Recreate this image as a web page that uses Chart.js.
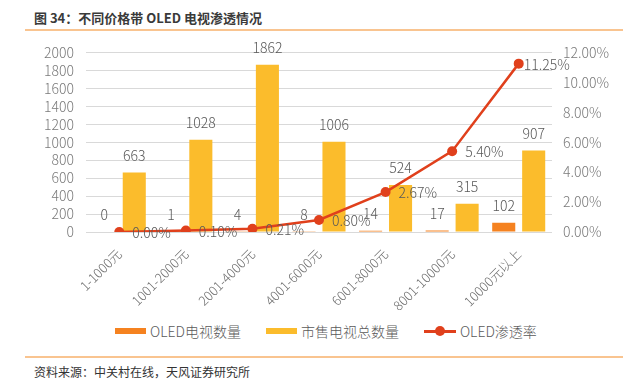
<!DOCTYPE html>
<html lang="zh">
<head>
  <meta charset="UTF-8" />
  <title>不同价格带 OLED 电视渗透情况</title>
  <style>
    body { margin: 0; width: 629px; height: 384px; background: #fff; position: relative; overflow: hidden; font-family: "Noto Sans CJK SC", sans-serif; }
    #title { position: absolute; left: 34px; top: 8px; font-size: 13px; font-weight: bold; color: #3a3a3a; white-space: nowrap; }
    .rule { position: absolute; left: 25px; right: 6px; height: 2px; background: #F9C490; }
    #wrap { position: absolute; left: 0; top: 32px; width: 629px; height: 286px; }
    #legend { position: absolute; left: 115px; top: 321px; height: 20px; display: flex; align-items: center; font-size: 14px; font-weight: 300; color: #595959; white-space: nowrap; }
    #legend .item { display: flex; align-items: center; margin-right: 25px; }
    #legend .box { width: 31px; height: 6px; margin-right: 4px; }
    #legend .line { position: relative; width: 32px; height: 3px; margin-right: 4px; }
    #legend .line::after { content: ''; position: absolute; left: 11px; top: -3.5px; width: 10px; height: 10px; border-radius: 50%; background: inherit; }
    #source { position: absolute; left: 34px; top: 363px; font-size: 12px; color: #333; white-space: nowrap; }
  </style>
  <script src="https://cdn.jsdelivr.net/npm/chart.js"></script>
</head>
<body>
  <div id="title">图 34：不同价格带 OLED 电视渗透情况</div>
  <div class="rule" style="top:29px"></div>
  <div id="wrap"><canvas id="chart"></canvas></div>
  <div id="legend"></div>
  <div class="rule" style="top:356px"></div>
  <div id="source">资料来源：中关村在线，天风证券研究所</div>
  <script>
    // DATA
    const categories = ['1-1000元', '1001-2000元', '2001-4000元', '4001-6000元', '6001-8000元', '8001-10000元', '10000元以上'];
    const oledCount = [0, 1, 4, 8, 14, 17, 102];
    const totalCount = [663, 1028, 1862, 1006, 524, 315, 907];
    const oledRate = [0.00, 0.10, 0.21, 0.80, 2.67, 5.40, 11.25];

    const FONT = '"Noto Sans CJK SC", sans-serif';
    const ORANGE = '#F58220';
    const YELLOW = '#FBBC2C';
    const RED = '#E0401C';

    // value labels on bars and points
    const valueLabels = {
      id: 'valueLabels',
      afterDatasetsDraw(chart) {
        const ctx = chart.ctx;
        ctx.save();
        ctx.font = '300 14px ' + FONT;
        ctx.fillStyle = '#595959';
        ctx.textBaseline = 'middle';
        chart.data.datasets.forEach((ds, i) => {
          const meta = chart.getDatasetMeta(i);
          meta.data.forEach((el, j) => {
            if (ds.type === 'line') {
              ctx.textAlign = 'left';
              const dx = j === ds.data.length - 1 ? 5 : 13;
              ctx.fillText(ds.data[j].toFixed(2) + '%', el.x + dx, el.y + 1);
            } else {
              ctx.textAlign = 'center';
              ctx.fillText(String(ds.data[j]), el.x, el.y - 17);
            }
          });
        });
        ctx.restore();
      }
    };

    const chart = new Chart(document.getElementById('chart'), {
      data: {
        labels: categories,
        datasets: [
          { type: 'line', label: 'OLED渗透率', data: oledRate, yAxisID: 'y1', order: 0,
            borderColor: RED, backgroundColor: RED, borderWidth: 2.5, pointRadius: 5,
            pointBackgroundColor: RED, pointBorderWidth: 0, tension: 0 },
          { type: 'bar', label: 'OLED电视数量', data: oledCount, yAxisID: 'y', order: 1,
            backgroundColor: ORANGE, categoryPercentage: 0.9, barPercentage: 0.77 },
          { type: 'bar', label: '市售电视总数量', data: totalCount, yAxisID: 'y', order: 1,
            backgroundColor: YELLOW, categoryPercentage: 0.9, barPercentage: 0.77 }
        ]
      },
      options: {
        responsive: true,
        maintainAspectRatio: false,
        animation: false,
        layout: { padding: { top: 11, left: 24, right: 0, bottom: 0 } },
        plugins: {
          tooltip: { enabled: false },
          legend: { display: false }
        },
        scales: {
          x: {
            grid: { display: false },
            border: { display: false },
            ticks: { color: '#6b6b6b', font: { family: FONT, size: 13, weight: 300 }, minRotation: 45, maxRotation: 45, padding: 6, autoSkip: false },
            afterFit: s => { s.height = 86; }
          },
          y: {
            position: 'left',
            min: 0, max: 2000,
            border: { display: false },
            grid: { color: '#D9D9D9', lineWidth: 1, drawTicks: false },
            ticks: { stepSize: 200, autoSkip: false, color: '#7a7a7a', font: { family: FONT, size: 14, weight: 300 }, padding: 12,
              callback: v => String(v) },
            afterFit: s => { s.width = 62; }
          },
          y1: {
            position: 'right',
            min: 0, max: 12,
            border: { display: false },
            grid: { display: false, drawTicks: false },
            ticks: { stepSize: 2, autoSkip: false, color: '#7a7a7a', font: { family: FONT, size: 14, weight: 300 }, padding: 11,
              callback: v => v.toFixed(2) + '%' },
            afterFit: s => { s.width = 77; }
          }
        }
      },
      plugins: [valueLabels]
    });

    // HTML legend, order as in the source chart
    const legendItems = [
      { ds: 1, kind: 'box' },
      { ds: 2, kind: 'box' },
      { ds: 0, kind: 'line' }
    ];
    const legendEl = document.getElementById('legend');
    legendItems.forEach(it => {
      const ds = chart.data.datasets[it.ds];
      const item = document.createElement('div');
      item.className = 'item';
      const mark = document.createElement('span');
      mark.className = it.kind;
      mark.style.background = it.kind === 'line' ? ds.borderColor : ds.backgroundColor;
      const label = document.createElement('span');
      label.textContent = ds.label;
      item.appendChild(mark);
      item.appendChild(label);
      legendEl.appendChild(item);
    });
  </script>
</body>
</html>
